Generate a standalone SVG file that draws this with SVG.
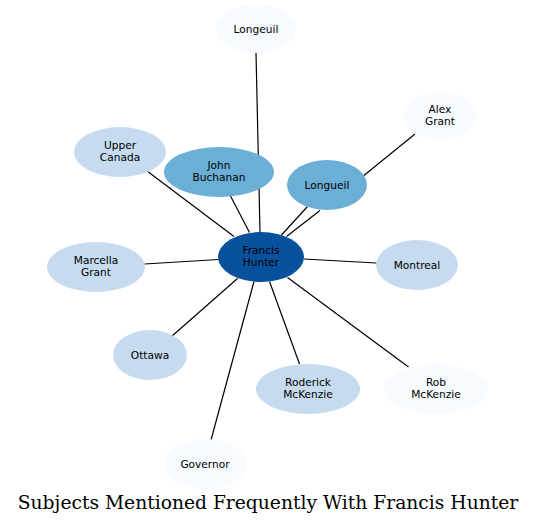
<svg xmlns="http://www.w3.org/2000/svg" width="536" height="524" viewBox="0 0 536 524">
<style>
.e{stroke:#000;stroke-width:1.2;fill:none}
.t{font-family:"DejaVu Sans",sans-serif;font-size:10.6px;text-anchor:middle;fill:#000}
.c0{fill:#f7fbff}.c1{fill:#c6dbef}.c2{fill:#6baed6}.c3{fill:#08519c}
.title{font-family:"DejaVu Serif","Liberation Serif",serif;font-size:18.7px;text-anchor:middle;fill:#000}
</style>
<rect width="536" height="524" fill="#fff"/>
<g id="edges">
<line class="e" x1="256" y1="53" x2="260" y2="232"/>
<line class="e" x1="415" y1="134" x2="362" y2="177"/>
<line class="e" x1="307.5" y1="206.5" x2="281.5" y2="235"/>
<line class="e" x1="320" y1="210.5" x2="286.5" y2="236.5"/>
<line class="e" x1="147" y1="171" x2="234" y2="236.5"/>
<line class="e" x1="230.5" y1="196" x2="249.5" y2="232.5"/>
<line class="e" x1="144.5" y1="264" x2="218.5" y2="259.5"/>
<line class="e" x1="303.5" y1="259" x2="376.5" y2="263"/>
<line class="e" x1="171.5" y1="336.5" x2="237.5" y2="278.5"/>
<line class="e" x1="211" y1="440" x2="254" y2="281.5"/>
<line class="e" x1="269.5" y1="281.5" x2="299.5" y2="364"/>
<line class="e" x1="287.5" y1="277.5" x2="408.5" y2="367"/>
</g>
<g id="n-longeuil"><ellipse class="c0" cx="256" cy="29" rx="40" ry="24"/><text class="t" x="256" y="32.5">Longeuil</text></g>
<g id="n-alexgrant"><ellipse class="c0" cx="440" cy="116" rx="37" ry="24"/><text class="t" x="440" y="113">Alex</text><text class="t" x="440" y="125">Grant</text></g>
<g id="n-uppercanada"><ellipse class="c1" cx="120" cy="152" rx="46" ry="25"/><text class="t" x="120" y="149">Upper</text><text class="t" x="120" y="161">Canada</text></g>
<g id="n-johnbuchanan"><ellipse class="c2" cx="219" cy="172" rx="55" ry="25"/><text class="t" x="219" y="169">John</text><text class="t" x="219" y="181">Buchanan</text></g>
<g id="n-longueil"><ellipse class="c2" cx="327" cy="185" rx="40" ry="25"/><text class="t" x="327" y="188.5">Longueil</text></g>
<g id="n-francishunter"><ellipse class="c3" cx="261" cy="257" rx="43" ry="25"/><text class="t" x="261" y="254">Francis</text><text class="t" x="261" y="266">Hunter</text></g>
<g id="n-marcellagrant"><ellipse class="c1" cx="96" cy="267" rx="49" ry="25"/><text class="t" x="96" y="264">Marcella</text><text class="t" x="96" y="276">Grant</text></g>
<g id="n-montreal"><ellipse class="c1" cx="417" cy="265" rx="41" ry="25"/><text class="t" x="417" y="268.5">Montreal</text></g>
<g id="n-ottawa"><ellipse class="c1" cx="150" cy="355" rx="37" ry="25"/><text class="t" x="150" y="358.5">Ottawa</text></g>
<g id="n-roderick"><ellipse class="c1" cx="308" cy="389" rx="52" ry="25"/><text class="t" x="308" y="386">Roderick</text><text class="t" x="308" y="398">McKenzie</text></g>
<g id="n-rob"><ellipse class="c0" cx="436" cy="389" rx="52" ry="25"/><text class="t" x="436" y="386">Rob</text><text class="t" x="436" y="398">McKenzie</text></g>
<g id="n-governor"><ellipse class="c0" cx="205" cy="464" rx="41" ry="25"/><text class="t" x="205" y="467.5">Governor</text></g>
<text class="title" x="268" y="509">Subjects Mentioned Frequently With Francis Hunter</text>
</svg>
